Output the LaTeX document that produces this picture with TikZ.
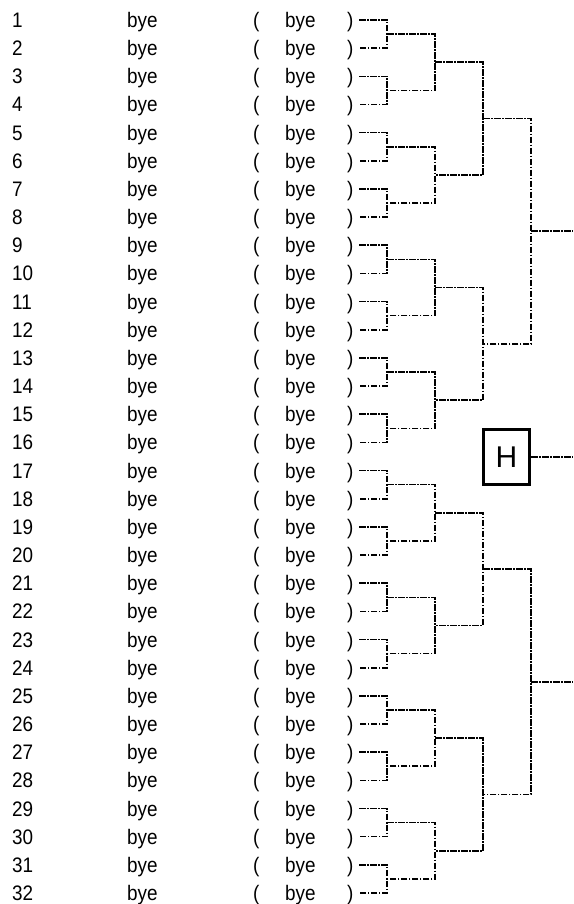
\documentclass[tikz,border=0pt]{standalone}
\usepackage{fontspec}
\setmainfont{Liberation Sans}[FakeStretch=0.9]
\newfontfamily\hfont{Liberation Sans}
\begin{document}
\begin{tikzpicture}[x=1pt,y=-1pt,
  lbl/.style={anchor=base west,inner sep=0pt,font=\fontsize{21}{21}\selectfont},
  brk/.style={line width=1.6pt,dash pattern=on 6.5pt off 1.5pt on 1.5pt off 1.5pt},
  hbox/.style={draw,line width=3pt,minimum width=46pt,minimum height=55pt,inner sep=0pt,font=\hfont\fontsize{30}{30}\selectfont}]
\useasboundingbox (0,0) rectangle (573,904);
\def\dy{28.161}
\foreach \i in {1,...,32}{
  \pgfmathsetmacro{\y}{20+(\i-1)*\dy}
  \node[lbl] (n\i) at (12,\y+7.5) {\i};
  \node[lbl] (b\i) at (127,\y+7.5) {bye};
  \node[lbl] (o\i) at (253,\y+7.5) {(};
  \node[lbl] (c\i) at (285,\y+7.5) {bye};
  \node[lbl] (p\i) at (347,\y+7.5) {)};
  \coordinate (s\i) at (359,\y);
}
% round 1 junctions
\foreach \k in {1,...,16}{
  \pgfmathsetmacro{\y}{20+(2*\k-1.5)*\dy}
  \coordinate (a\k) at (387,\y);
  \pgfmathtruncatemacro{\u}{2*\k-1}
  \pgfmathtruncatemacro{\v}{2*\k}
  \draw[brk] (s\u) -| (a\k) |- (s\v);
}
\foreach \k in {1,...,8}{
  \pgfmathsetmacro{\y}{20+(4*\k-2.5)*\dy}
  \coordinate (bb\k) at (435,\y);
  \pgfmathtruncatemacro{\u}{2*\k-1}
  \pgfmathtruncatemacro{\v}{2*\k}
  \draw[brk] (a\u) -| (bb\k) |- (a\v);
}
\foreach \k in {1,...,4}{
  \pgfmathsetmacro{\y}{20+(8*\k-4.5)*\dy}
  \coordinate (cc\k) at (483,\y);
  \pgfmathtruncatemacro{\u}{2*\k-1}
  \pgfmathtruncatemacro{\v}{2*\k}
  \draw[brk] (bb\u) -| (cc\k) |- (bb\v);
}
\foreach \k in {1,2}{
  \pgfmathsetmacro{\y}{20+(16*\k-8.5)*\dy}
  \coordinate (dd\k) at (531,\y);
  \coordinate (ee\k) at (573,\y);
  \pgfmathtruncatemacro{\u}{2*\k-1}
  \pgfmathtruncatemacro{\v}{2*\k}
  \draw[brk] (cc\u) -| (dd\k) |- (cc\v);
  \draw[brk] (dd\k) -- (ee\k);
}
\node[hbox] (H) at (506.5,457) {H};
\coordinate (hend) at (573,457);
\draw[brk] (H.east) -- (hend);
\end{tikzpicture}
\end{document}
